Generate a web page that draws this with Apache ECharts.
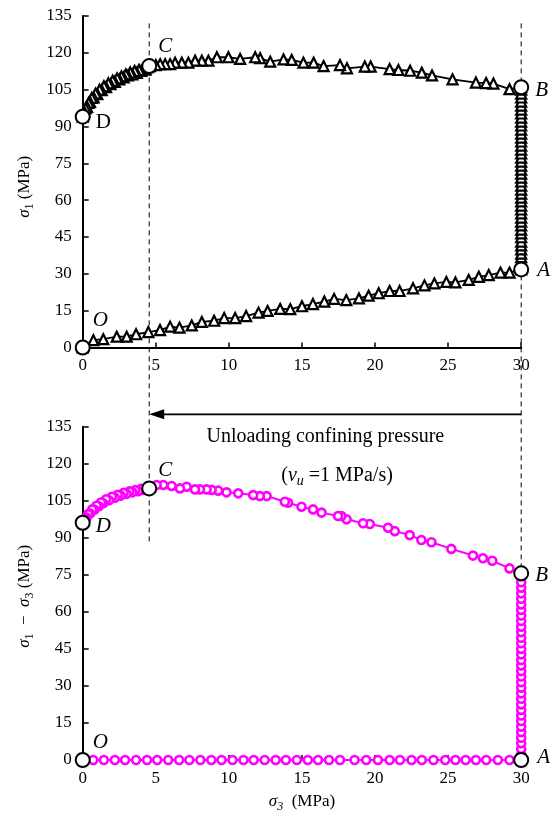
<!DOCTYPE html>
<html>
<head>
<meta charset="utf-8">
<script src="https://cdn.jsdelivr.net/npm/echarts@6/dist/echarts.min.js"></script>
<style>
html,body{margin:0;padding:0;background:#fff;}
#c{width:554px;height:821px;}
</style>
</head>
<body>
<div id="c"></div>
<script>
// ---------- data ----------
var xTicks = [0, 5, 10, 15, 20, 25, 30];
var yTicks = [0, 15, 30, 45, 60, 75, 90, 105, 120, 135];

// Top chart: sigma1 vs sigma3 (path O -> A -> B -> C -> D)
var topOA = [[0,0],[0.73,3.0],[1.41,3.4],[2.33,4.4],[3.01,4.4],[3.65,5.4],[4.49,6.3],[5.29,7.1],[5.98,8.5],[6.62,8.1],[7.46,9.0],[8.15,10.4],[8.99,10.9],[9.68,12.0],[10.43,12.0],[11.18,12.8],[12.03,14.2],[12.65,14.9],[13.51,15.7],[14.2,15.6],[15.0,16.8],[15.75,17.7],[16.53,18.7],[17.2,19.8],[18.03,19.3],[18.9,20.0],[19.56,21.1],[20.25,22.1],[21.0,23.0],[21.68,23.0],[22.6,24.1],[23.38,25.3],[24.06,26.1],[24.88,26.7],[25.5,26.5],[26.41,27.5],[27.1,28.8],[27.78,29.5],[28.58,30.5],[29.2,30.5],[30,31.8]];
var topAB_s1 = [33.5,35.1,36.8,38.2,40.0,41.6,43.1,44.9,46.5,48.0,49.7,51.3,52.9,54.6,56.2,57.8,59.5,61.0,62.7,64.3,65.9,67.6,69.2,70.8,72.4,74.1,75.7,77.3,79.0,80.6,82.2,83.9,85.5,87.1,88.7,90.4,92.0,93.6,95.3,96.9,98.5,100.1,101.8,103.4,105.0,106.0];
var topBC = [[29.2,105.2],[28.1,107.5],[27.6,107.7],[26.9,107.9],[25.3,109.2],[23.9,110.8],[23.2,111.9],[22.4,112.7],[21.6,113.0],[21.0,113.4],[19.7,114.4],[19.3,114.4],[18.08,113.7],[17.6,115.0],[16.48,114.6],[15.8,116.0],[15.1,116.0],[14.3,117.1],[13.74,117.3],[12.83,116.4],[12.14,117.8],[11.8,118.2],[10.77,117.5],[9.97,118.2],[9.18,118.2],[8.6,116.8],[8.15,116.8],[7.69,116.8],[7.23,116.0],[6.78,116.0],[6.32,116.0],[5.98,115.4],[5.64,115.4],[5.3,115.4],[5.0,115.0],[4.6,114.6]];
var topCD = [[4.45,114.2],[4.3,113.2],[4.15,113.6],[4.0,112.6],[3.85,113.0],[3.7,111.8],[3.55,112.6],[3.4,111.2],[3.25,112.0],[3.1,110.8],[2.95,111.2],[2.8,110.0],[2.65,110.4],[2.5,109.2],[2.35,109.6],[2.2,108.2],[2.05,108.6],[1.9,107.2],[1.75,107.6],[1.6,106.0],[1.45,106.4],[1.3,104.8],[1.15,105.0],[1.0,103.2],[0.88,103.4],[0.75,101.8],[0.62,101.6],[0.5,100.0],[0.4,99.6],[0.3,98.0],[0.2,97.4],[0.1,96.0],[0.05,95.2],[0,94.0]];

// Bottom chart: sigma1 - sigma3 vs sigma3
var botOA_s3 = [0,0.72,1.45,2.2,2.9,3.65,4.4,5.1,5.85,6.6,7.3,8.05,8.8,9.5,10.25,11.0,11.7,12.45,13.2,13.9,14.65,15.4,16.1,16.85,17.6,18.6,19.4,20.2,21.0,21.7,22.5,23.2,24.0,24.8,25.5,26.2,26.9,27.6,28.4,29.2,30];
var botAB_q = [2.2,4.5,6.8,9.0,11.3,13.5,15.8,18.0,20.3,22.5,24.8,27.0,29.3,31.5,33.8,36.0,38.3,40.5,42.8,45.0,47.3,49.5,51.8,54.0,56.3,58.5,60.8,63.0,65.3,67.5,69.8,72.0,74.3,75.6];
var botBC = [[29.2,77.6],[28.02,80.7],[27.38,81.7],[26.7,82.8],[25.22,85.5],[23.86,88.2],[23.17,89.1],[22.37,91.1],[21.35,92.7],[20.89,94.1],[19.64,95.6],[19.18,95.9],[18.05,97.5],[17.7,98.8],[17.47,98.8],[16.34,100.2],[15.76,101.5],[14.97,102.6],[14.05,104.2],[13.83,104.6],[12.58,106.9],[12.12,106.9],[11.66,107.3],[10.64,108.0],[9.84,108.4],[9.27,109.1],[8.82,109.4],[8.48,109.6],[8.02,109.6],[7.68,109.6],[7.11,110.7],[6.65,110.0],[6.08,111.0],[5.51,111.4],[5.06,111.4],[4.55,110.0]];
var botCD = [[4.4,110.0],[4.2,109.4],[4.0,109.8],[3.8,108.9],[3.6,109.3],[3.4,108.4],[3.2,108.8],[3.0,107.8],[2.8,108.2],[2.6,107.1],[2.4,107.4],[2.2,106.2],[2.0,106.6],[1.8,105.2],[1.6,105.6],[1.4,104.0],[1.25,104.3],[1.1,102.8],[0.95,103.0],[0.8,101.4],[0.65,101.5],[0.5,99.8],[0.38,99.6],[0.26,98.2],[0.15,97.8],[0.06,96.8],[0,96.1]];

// key points [sigma3, value, label]
var topKeys = [[0,0,'O'],[30,31.8,'A'],[30,106,'B'],[4.55,114.6,'C'],[0,94,'D']];
var botKeys = [[0,0,'O'],[30,0,'A'],[30,75.6,'B'],[4.55,110,'C'],[0,96.1,'D']];

// ---------- build ----------
var topPath = topOA.concat(topAB_s1.map(function(v){return [30, v];}), topBC, topCD);
var botPath = botOA_s3.map(function(v){return [v, 0];}).concat(botAB_q.map(function(v){return [30, v];}), botBC, botCD);

var FONT = 'Liberation Serif';
function xAx(gi){
  return {type:'value', gridIndex:gi, min:0, max:30, interval:5,
    axisLine:{show:true, onZero:false, lineStyle:{color:'#000', width:2}},
    axisTick:{show:true, inside:true, length:5, lineStyle:{color:'#000', width:1.5}},
    axisLabel:{color:'#000', fontFamily:FONT, fontSize:17, margin:10},
    splitLine:{show:false}};
}
function yAx(gi){
  return {type:'value', gridIndex:gi, min:0, max:135, interval:15,
    axisLine:{show:true, onZero:false, lineStyle:{color:'#000', width:2}},
    axisTick:{show:true, inside:true, length:6, lineStyle:{color:'#000', width:1.5}},
    axisLabel:{color:'#000', fontFamily:FONT, fontSize:17, margin:11},
    splitLine:{show:false}};
}
// label offsets relative to point (layout only)
var topLabelOff = {O:[-3,-27], A:[3,1], B:[1,3], C:[-4,-20], D:[0,6]};
var botLabelOff = {O:[-3,-18], A:[3,-3], B:[1,2], C:[-4,-18], D:[0,4]};
function keySeries(gi, keys, offs){
  return {type:'scatter', xAxisIndex:gi, yAxisIndex:gi, z:10, symbol:'circle', symbolSize:14,
    itemStyle:{color:'#fff', borderColor:'#000', borderWidth:2, opacity:1},
    data: keys.map(function(k){
      var upright = (gi===0 && k[2]==='D');
      return {value:[k[0],k[1]], label:{show:true, position:'right', distance:5, offset:offs[k[2]],
        formatter:k[2], color:'#000', fontFamily:FONT, fontSize:21, fontStyle: upright?'normal':'italic'}};
    })};
}

var chart = echarts.init(document.getElementById('c'), null, {renderer:'canvas'});
var option = {
  animation:false,
  backgroundColor:'#fff',
  grid:[{left:82.7, top:16, width:438.5, height:331.5}, {left:82.7, top:426.7, width:438.5, height:333.3}],
  xAxis:[xAx(0), xAx(1)],
  yAxis:[yAx(0), yAx(1)],
  series:[
    {type:'line', xAxisIndex:0, yAxisIndex:0, data:topPath, z:5, showSymbol:true, showAllSymbol:true,
      symbol:'triangle', symbolSize:10, lineStyle:{color:'#000', width:1.8},
      itemStyle:{color:'#fff', borderColor:'#000', borderWidth:2.2}},
    {type:'line', xAxisIndex:1, yAxisIndex:1, data:botPath, z:5, showSymbol:true, showAllSymbol:true,
      symbol:'circle', symbolSize:8, lineStyle:{color:'#ff00ff', width:2},
      itemStyle:{color:'#fff', borderColor:'#ff00ff', borderWidth:2.6}},
    keySeries(0, topKeys, topLabelOff),
    keySeries(1, botKeys, botLabelOff)
  ]
};
chart.setOption(option);

function px(gi, x, y){ return chart.convertToPixel({xAxisIndex:gi, yAxisIndex:gi}, [x, y]); }
var subRich = {
  i:{fontStyle:'italic', fontFamily:FONT, fontSize:17, color:'#000'},
  n:{fontFamily:FONT, fontSize:17, color:'#000'},
  sub:{fontFamily:FONT, fontSize:12, color:'#000', padding:[10,0,0,0]},
  isub:{fontFamily:FONT, fontSize:12, fontStyle:'italic', color:'#000', padding:[10,0,0,0]}
};
var annRich = {
  i:{fontStyle:'italic', fontFamily:FONT, fontSize:20, color:'#000'},
  n:{fontFamily:FONT, fontSize:20, color:'#000'},
  isub:{fontFamily:FONT, fontSize:14, fontStyle:'italic', color:'#000', padding:[12,0,0,0]}
};

var c1Top = px(0, 4.55, 132), c1Bot = px(1, 4.55, 88);
var c2Top = px(0, 30, 132), c2Bot = px(1, 30, 75.6);
var arR = px(1, 30, 140), arL = px(1, 4.55, 140);
var g0mid = px(0, 15, 67.5), g1mid = px(1, 15, 67.5);
var g1x = px(1, 15, 0);
var t1 = px(1, 16.6, 131), t2 = px(1, 17.4, 115.3);

var graphics = [
  {type:'line', shape:{x1:c1Top[0], y1:c1Top[1], x2:c1Bot[0], y2:c1Bot[1]}, style:{stroke:'#000', lineWidth:1, lineDash:[5,4]}, z:1},
  {type:'line', shape:{x1:c2Top[0], y1:c2Top[1], x2:c2Bot[0], y2:c2Bot[1]}, style:{stroke:'#000', lineWidth:1, lineDash:[5,4]}, z:1},
  {type:'line', shape:{x1:arR[0], y1:arR[1], x2:arL[0]+12, y2:arL[1]}, style:{stroke:'#000', lineWidth:1.8}},
  {type:'polygon', shape:{points:[[arL[0], arL[1]], [arL[0]+15, arL[1]-5], [arL[0]+15, arL[1]+5]]}, style:{fill:'#000'}},
  {type:'text', x:t1[0], y:t1[1], style:{text:'Unloading confining pressure', font:'20px "Liberation Serif"', fill:'#000', textAlign:'center', textVerticalAlign:'middle'}},
  {type:'text', x:t2[0], y:t2[1], style:{text:'{n|(}{i|v}{isub|u}{n| =1 MPa/s)}', rich:annRich, textAlign:'center', textVerticalAlign:'middle'}},
  {type:'text', x:25, y:g0mid[1]+5, rotation:Math.PI/2, style:{text:'{i|σ}{sub|1}{n| (MPa)}', rich:subRich, textAlign:'center', textVerticalAlign:'middle'}},
  {type:'text', x:25, y:g1mid[1]+3, rotation:Math.PI/2, style:{text:'{i|σ}{sub|1}{n|  −  }{i|σ}{sub|3}{n| (MPa)}', rich:subRich, textAlign:'center', textVerticalAlign:'middle'}},
  {type:'text', x:g1x[0], y:g1x[1]+42, style:{text:'{i|σ}{isub|3}{n|  (MPa)}', rich:subRich, textAlign:'center', textVerticalAlign:'middle'}}
];
chart.setOption({graphic:graphics});
</script>
</body>
</html>
